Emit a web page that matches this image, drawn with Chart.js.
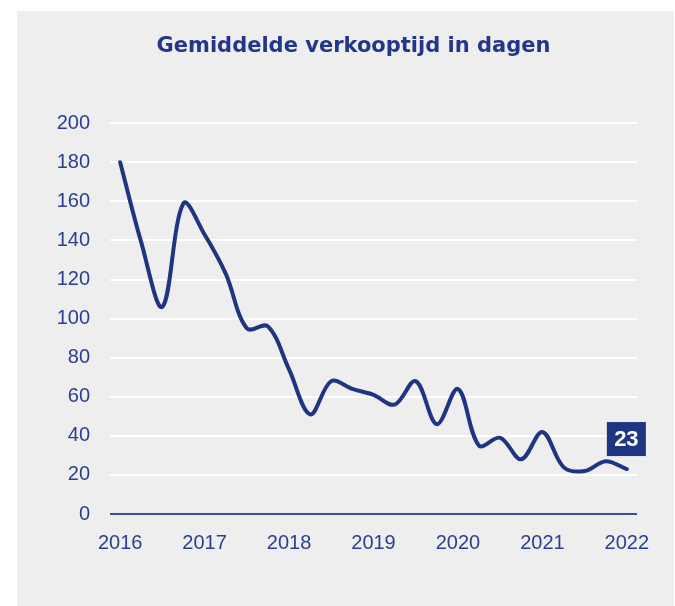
<!DOCTYPE html>
<html>
<head>
<meta charset="utf-8">
<script src="https://cdn.jsdelivr.net/npm/chart.js@4"></script>
<style>
  html, body { margin: 0; padding: 0; background: #ffffff; }
  body { width: 675px; height: 606px; position: relative; overflow: hidden; }
  #panel { position: absolute; left: 17px; top: 11px; width: 657px; height: 595px; background: #eeeeee; }
  #c { position: absolute; left: 32px; top: 0; }
</style>
</head>
<body>
<div id="panel"></div>
<canvas id="c" width="643" height="606"></canvas>
<script>
const titleText = 'Gemiddelde verkooptijd in dagen';
const quarters = [2016.00, 2016.25, 2016.50, 2016.75,
                  2017.00, 2017.25, 2017.50, 2017.75,
                  2018.00, 2018.25, 2018.50, 2018.75,
                  2019.00, 2019.25, 2019.50, 2019.75,
                  2020.00, 2020.25, 2020.50, 2020.75,
                  2021.00, 2021.25, 2021.50, 2021.75,
                  2022.00];
const days = [180, 139, 106, 159,
              143, 123, 95, 96,
              74, 51, 68, 64,
              61, 56, 68, 46,
              64, 35, 39, 28,
              42, 24, 22, 27,
              23];
const yearTicks = [2016, 2017, 2018, 2019, 2020, 2021, 2022];
const valueTicks = [0, 20, 40, 60, 80, 100, 120, 140, 160, 180, 200];

const NAVY = '#1e3582';
const TICK = '#2c3f8f';

const lastLabel = {
  id: 'lastLabel',
  afterDatasetsDraw(chart) {
    const meta = chart.getDatasetMeta(0);
    const pt = meta.data[meta.data.length - 1];
    const ctx = chart.ctx;
    const w = 39, h = 34;
    const cx = pt.x - 0.5;
    const top = pt.y - 47;
    ctx.save();
    ctx.fillStyle = NAVY;
    ctx.fillRect(cx - w / 2, top, w, h);
    ctx.fillStyle = '#ffffff';
    ctx.font = 'bold 22px "Liberation Sans", Arial, sans-serif';
    ctx.textAlign = 'center';
    ctx.textBaseline = 'middle';
    ctx.fillText(String(days[days.length - 1]), cx, top + h / 2 + 1);
    ctx.restore();
  }
};

new Chart(document.getElementById('c'), {
  type: 'line',
  data: {
    datasets: [{
      data: quarters.map((q, i) => ({ x: q, y: days[i] })),
      borderColor: NAVY,
      borderWidth: 4,
      pointRadius: 0,
      tension: 0.35,
      fill: false,
      borderCapStyle: 'round',
      borderJoinStyle: 'round'
    }]
  },
  options: {
    responsive: false,
    animation: false,
    layout: { padding: 0 },
    plugins: {
      legend: { display: false },
      tooltip: { enabled: false },
      title: {
        display: true,
        text: titleText,
        color: '#22378a',
        font: { family: '"DejaVu Sans", sans-serif', size: 21, weight: 'bold' },
        padding: { top: 34, bottom: 64 }
      }
    },
    scales: {
      x: {
        type: 'linear',
        min: 2015.88,
        max: 2022.12,
        afterBuildTicks: (scale) => { scale.ticks = yearTicks.map(v => ({ value: v })); },
        afterFit: (scale) => { scale.height = 92; },
        grid: { display: false, drawTicks: false },
        border: { display: false },
        ticks: {
          color: TICK,
          padding: 17,
          maxRotation: 0,
          font: { family: '"Liberation Sans", Arial, sans-serif', size: 20 },
          callback: (v) => String(v)
        }
      },
      y: {
        min: 0,
        max: 200,
        afterBuildTicks: (scale) => { scale.ticks = valueTicks.map(v => ({ value: v })); },
        afterFit: (scale) => { scale.width = 78; },
        grid: {
          drawTicks: false,
          color: (ctx) => ctx.tick && ctx.tick.value === 0 ? '#3b4f9a' : '#ffffff',
          lineWidth: 2
        },
        border: { display: false },
        ticks: {
          color: TICK,
          padding: 20,
          font: { family: '"Liberation Sans", Arial, sans-serif', size: 20 },
          callback: (v) => String(v)
        }
      },
      spacer: {
        type: 'linear',
        position: 'right',
        min: 0,
        max: 1,
        afterFit: (scale) => { scale.width = 38; },
        grid: { display: false, drawTicks: false },
        border: { display: false },
        ticks: { display: false }
      }
    }
  },
  plugins: [lastLabel]
});
</script>
</body>
</html>
